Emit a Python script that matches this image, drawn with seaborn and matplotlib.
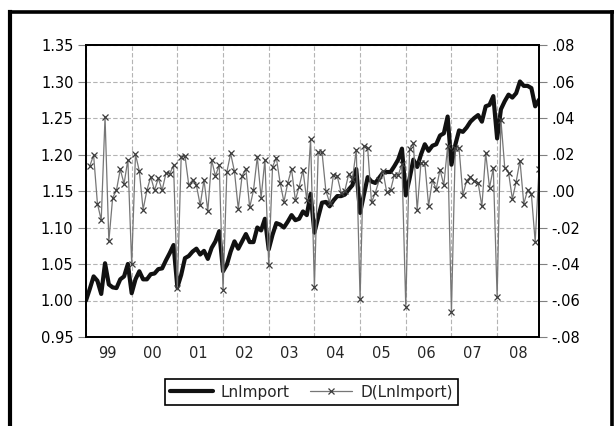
import numpy as np
import pandas as pd
import matplotlib
matplotlib.use("Agg")
import matplotlib.pyplot as plt
import matplotlib.transforms as mtransforms
from matplotlib.lines import Line2D
import seaborn as sns

# Monthly series, Jan 1999 - Dec 2008
years = ["99", "00", "01", "02", "03", "04", "05", "06", "07", "08"]

ln_import = [
    1.000, 1.016, 1.033, 1.027, 1.009, 1.051, 1.022, 1.018, 1.017, 1.029, 1.033, 1.050,
    1.010, 1.029, 1.040, 1.029, 1.029, 1.036, 1.037, 1.043, 1.044, 1.055, 1.065, 1.076,
    1.018, 1.035, 1.058, 1.061, 1.067, 1.071, 1.063, 1.068, 1.057, 1.072, 1.081, 1.095,
    1.040, 1.049, 1.067, 1.081, 1.071, 1.081, 1.091, 1.080, 1.080, 1.100, 1.096, 1.112,
    1.070, 1.090, 1.106, 1.104, 1.100, 1.108, 1.117, 1.110, 1.112, 1.122, 1.117, 1.146,
    1.093, 1.114, 1.134, 1.135, 1.129, 1.137, 1.143, 1.143, 1.145, 1.152, 1.158, 1.180,
    1.120, 1.145, 1.169, 1.163, 1.161, 1.168, 1.175, 1.176, 1.176, 1.184, 1.193, 1.208,
    1.144, 1.167, 1.193, 1.183, 1.200, 1.214, 1.205, 1.212, 1.214, 1.226, 1.229, 1.252,
    1.186, 1.213, 1.233, 1.231, 1.237, 1.245, 1.250, 1.254, 1.245, 1.266, 1.268, 1.280,
    1.222, 1.262, 1.273, 1.282, 1.278, 1.284, 1.300, 1.294, 1.294, 1.291, 1.266, 1.275,
]

d_ln_import = [
    np.nan, 0.0137, 0.0197, -0.0069, -0.0159, 0.0407, -0.0276, -0.0037, 0.0004, 0.0119, 0.0040, 0.0172,
    -0.0402, 0.0201, 0.0110, -0.0102, 0.0004, 0.0077, 0.0004, 0.0069, 0.0004, 0.0097, 0.0095, 0.0141,
    -0.0533, 0.0186, 0.0192, 0.0033, 0.0060, 0.0031, -0.0077, 0.0060, -0.0110, 0.0170, 0.0082, 0.0142,
    -0.0542, 0.0104, 0.0206, 0.0107, -0.0098, 0.0083, 0.0123, -0.0090, 0.0004, 0.0187, -0.0037, 0.0171,
    -0.0406, 0.0132, 0.0183, 0.0044, -0.0059, 0.0044, 0.0121, -0.0051, 0.0024, 0.0114, -0.0051, 0.0284,
    -0.0527, 0.0211, 0.0213, 0.0002, -0.0064, 0.0088, 0.0081, -0.0009, 0.0002, 0.0092, 0.0068, 0.0226,
    -0.0591, 0.0248, 0.0233, -0.0063, -0.0009, 0.0058, 0.0110, -0.0007, 0.0004, 0.0088, 0.0086, 0.0148,
    -0.0633, 0.0231, 0.0261, -0.0106, 0.0156, 0.0156, -0.0081, 0.0059, 0.0011, 0.0117, 0.0033, 0.0246,
    -0.0664, 0.0235, 0.0235, -0.0022, 0.0057, 0.0077, 0.0055, 0.0046, -0.0084, 0.0209, 0.0018, 0.0125,
    -0.0583, 0.0389, 0.0128, 0.0101, -0.0044, 0.0051, 0.0167, -0.0070, 0.0004, -0.0018, -0.0279, 0.0121,
]

left_ticks = [0.95, 1.00, 1.05, 1.10, 1.15, 1.20, 1.25, 1.30, 1.35]
right_ticks = [-0.08, -0.06, -0.04, -0.02, 0.00, 0.02, 0.04, 0.06, 0.08]

df = pd.DataFrame({
    "month": np.arange(len(ln_import)),
    "LnImport": ln_import,
    "D(LnImport)": d_ln_import,
})

sns.set_style("white")
plt.rcParams["font.family"] = ["DejaVu Sans"]

W, H = 614, 426
fig = plt.figure(figsize=(W / 100, H / 100), dpi=100)
x0, x1, y0, y1 = 86, 539, 45, 337
ax = fig.add_axes([x0 / W, 1 - y1 / H, (x1 - x0) / W, (y1 - y0) / H])
ax2 = ax.twinx()

line_col = "#111111"
d_col = "#767676"
mk_col = "#3c3c3c"

sns.lineplot(data=df, x="month", y="LnImport", ax=ax, color=line_col,
             linewidth=3.0, legend=False)
sns.lineplot(data=df.dropna(), x="month", y="D(LnImport)", ax=ax2, color=d_col,
             linewidth=0.9, marker="x", markersize=3.8, markeredgecolor=mk_col,
             markeredgewidth=0.9, legend=False)

n = len(ln_import)
ax.set_xlim(0, n - 1)
ax.set_ylim(left_ticks[0], left_ticks[-1])
ax2.set_ylim(right_ticks[0], right_ticks[-1])

ax.set_yticks(left_ticks)
ax.set_yticklabels([f"{v:.2f}" for v in left_ticks])


def short_fmt(v):
    s = f"{v:.2f}"
    if s.startswith("-0"):
        return "-" + s[2:]
    if s.startswith("0"):
        return s[1:]
    return s


ax2.set_yticks(right_ticks)
ax2.set_yticklabels([short_fmt(v) for v in right_ticks])

# year boundaries as major ticks, quarters as minor ticks
ax.set_xticks(np.arange(0, n, 12))
ax.set_xticks(np.arange(0, n, 3), minor=True)
ax.set_xticklabels([])

for a in (ax, ax2):
    a.set_xlabel("")
    a.set_ylabel("")

ax.set_axisbelow(True)
ax.grid(True, which="major", axis="both", color="#b4b4b4",
        linestyle=(0, (4, 2)), linewidth=0.8)

tick_fs = 10.5
for a in (ax, ax2):
    a.tick_params(axis="y", direction="out", length=6, width=0.8, color="#808080",
                  pad=3, labelsize=tick_fs, labelcolor="black")
ax.tick_params(axis="x", which="major", direction="out", length=5.5, width=0.8,
               color="#222222")
ax.tick_params(axis="x", which="minor", direction="out", length=3.2, width=0.8,
               color="#222222")

for a in (ax, ax2):
    for sp in a.spines.values():
        sp.set_visible(True)
        sp.set_color("black")
        sp.set_linewidth(1.3)

# year labels centred under each year
trans = mtransforms.blended_transform_factory(ax.transData, ax.transAxes)
for k, yr in enumerate(years):
    ax.text(12 * k + 5.5, -9 / (y1 - y0), yr, transform=trans, ha="center",
            va="top", fontsize=tick_fs)

handles = [
    Line2D([], [], color=line_col, linewidth=3.0),
    Line2D([], [], color=d_col, linewidth=0.9, marker="x", markersize=3.8,
           markeredgecolor=mk_col, markeredgewidth=0.9),
]
leg = fig.legend(handles, ["LnImport", "D(LnImport)"], loc="center",
                 bbox_to_anchor=(311.5 / W, 1 - 392 / H), ncol=2, frameon=True,
                 fancybox=False, edgecolor="black", framealpha=1, fontsize=11,
                 handlelength=2.8, handletextpad=0.5, columnspacing=1.3,
                 borderpad=0.35)
leg.get_frame().set_linewidth(1.2)

# outer frame around the graph
def px_line(xs, ys, lw):
    fig.add_artist(Line2D([x / W for x in xs], [1 - y / H for y in ys],
                          transform=fig.transFigure, color="black", linewidth=lw,
                          solid_capstyle="projecting"))


px_line([9.5, 9.5], [H + 2, 11.7], 3.0)
px_line([9.5, W + 2], [11.7, 11.7], 2.6)
px_line([611.5, 611.5], [11.7, H + 2], 2.6)

fig.savefig("out.png", dpi=100)
